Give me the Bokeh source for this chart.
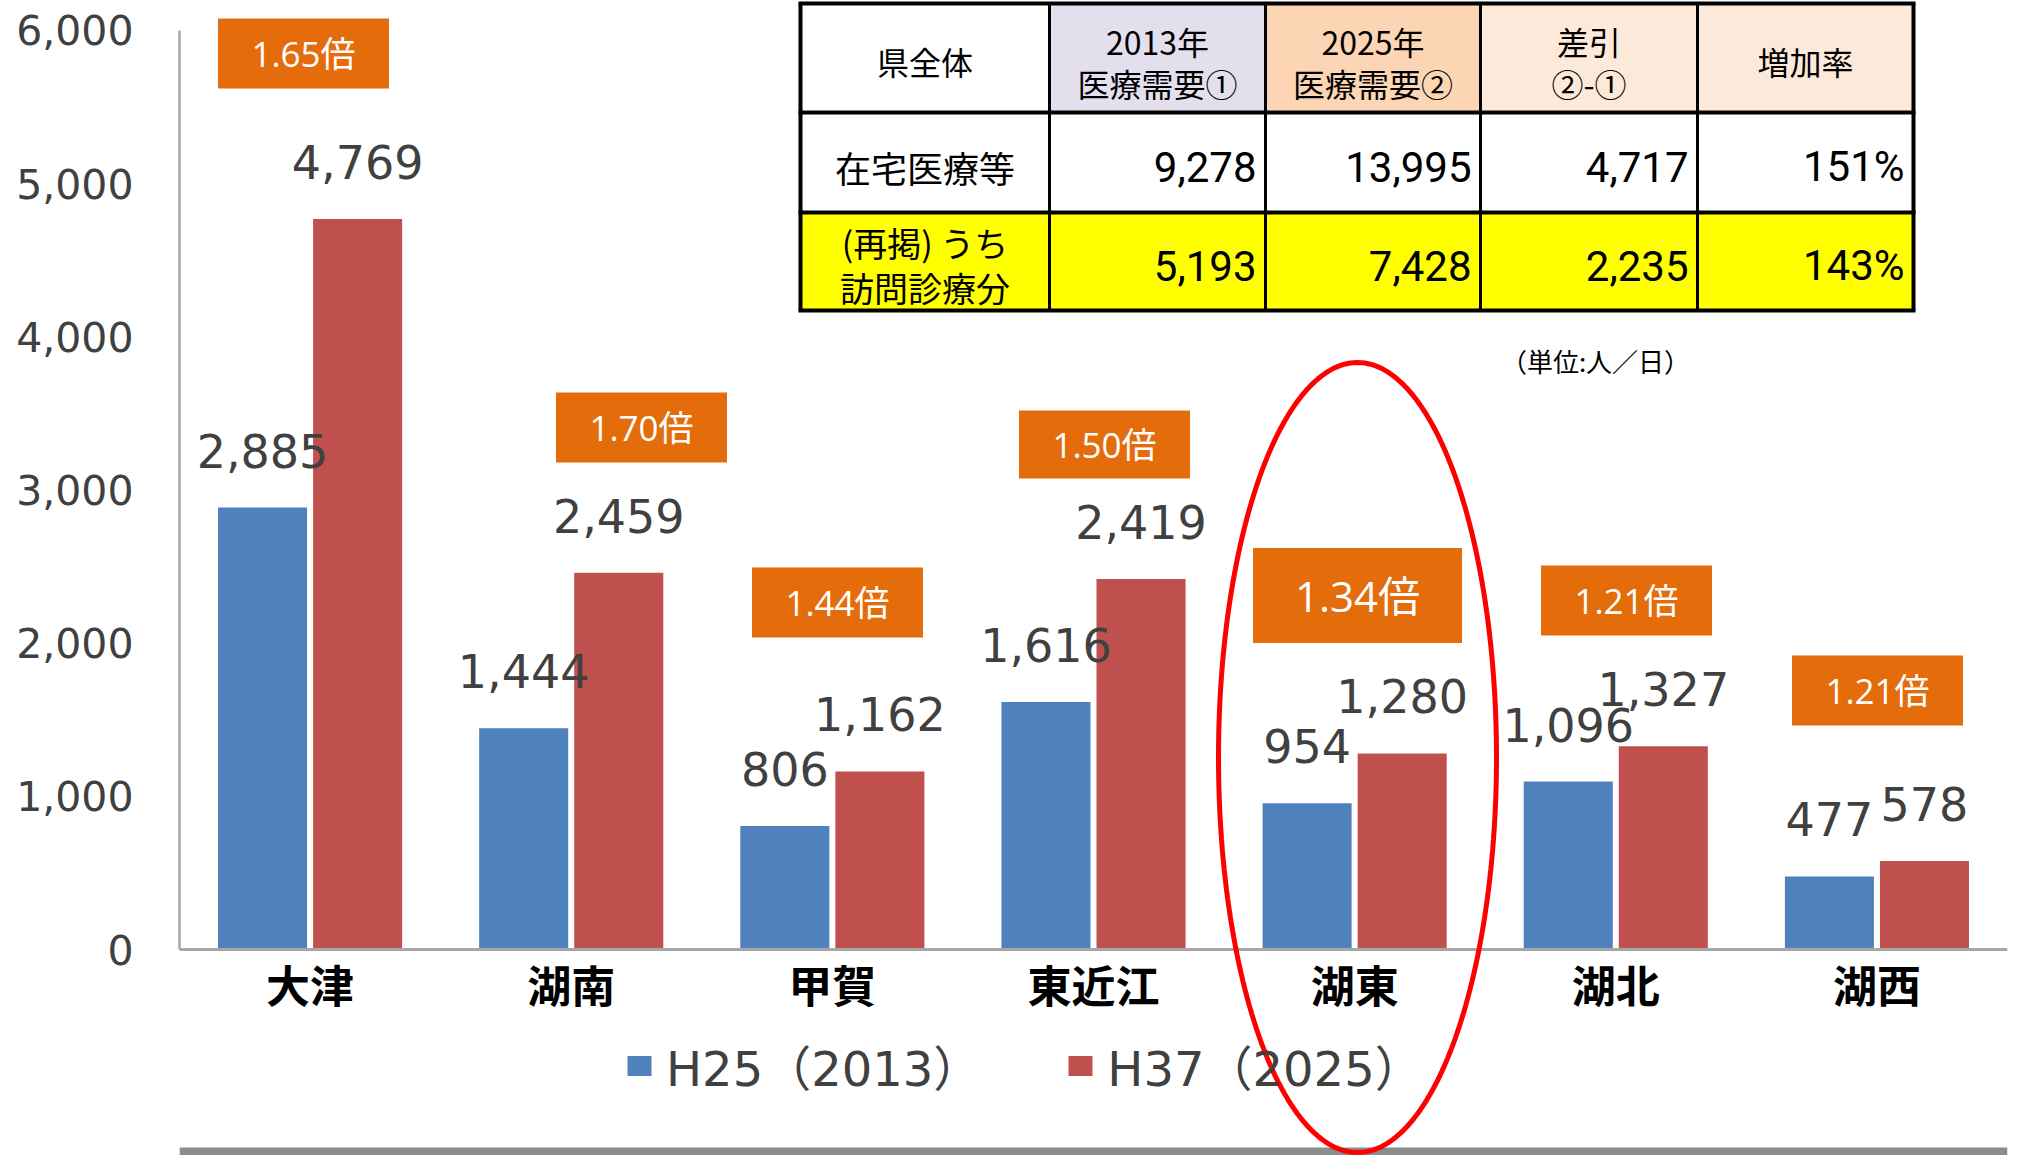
import numpy as np
from bokeh.plotting import figure
from bokeh.models import (Range1d, FixedTicker, NumeralTickFormatter, LinearAxis, Span,
                          Legend, LegendItem, PolyAnnotation, ColumnDataSource)
from bokeh.core.properties import value
from bokeh.embed import file_html
from bokeh.resources import INLINE

# ---------------- data ----------------
regions = ["大津", "湖南", "甲賀", "東近江", "湖東", "湖北", "湖西"]
h25_2013 = [2885, 1444, 806, 1616, 954, 1096, 477]
h37_2025 = [4769, 2459, 1162, 2419, 1280, 1327, 578]
growth_labels = ["1.65倍", "1.70倍", "1.44倍", "1.50倍", "1.34倍", "1.21倍", "1.21倍"]
series_names = ["H25（2013）", "H37（2025）"]
y_ticks = [0, 1000, 2000, 3000, 4000, 5000, 6000]

table_corner = "県全体"
table_headers = [["2013年", "医療需要①"], ["2025年", "医療需要②"], ["差引", "②-①"], ["増加率"]]
table_row_labels = [["在宅医療等"], ["(再掲) うち", "訪問診療分"]]
home_care_values = [9278, 13995, 4717]
home_care_rate = 151
home_visit_values = [5193, 7428, 2235]
home_visit_rate = 143
unit_note = "（単位:人／日）"

# ---------------- layout / styles ----------------
BLUE, RED, ORANGE = "#4F81BD", "#C0504D", "#E46C0A"
GRAY_TXT = "#404040"
W, H = 2022, 1155
FL, FR = 179, 2007          # frame left/right in page pixels
BASE = 949                  # page pixel of y = 0
PX_PER_UNIT = 0.1532
NUM_FONT = value("DejaVu Sans")
CJK = value("Noto Sans CJK JP")
NARROW = value("Liberation Sans Narrow, Roboto, Noto Sans CJK JP")

n = len(regions)
centers_x = [i + 0.5 for i in range(n)]
px_per_cat = (FR - FL) / n

def to_data_x(px):
    return (np.asarray(px, dtype=float) - FL) / px_per_cat

def to_data_y(py):
    return (BASE - np.asarray(py, dtype=float)) / PX_PER_UNIT

p = figure(frame_width=FR - FL, frame_height=H, output_backend="svg", toolbar_location=None,
           x_axis_location=None,
           x_range=Range1d(0, n), y_range=Range1d(float(to_data_y(H)), float(to_data_y(0))))
p.min_border_left = FL
p.min_border_right = W - FR
p.min_border_top = 0
p.min_border_bottom = 0
p.outline_line_color = None
p.grid.visible = False
p.background_fill_color = "white"
p.border_fill_color = "white"

# pixel-space ranges (page coordinates) for table & boxes
p.extra_x_ranges = {"px": Range1d(FL, FR)}
p.extra_y_ranges = {"py": Range1d(H, 0)}

# y axis
p.yaxis.ticker = FixedTicker(ticks=y_ticks)
p.yaxis.formatter = NumeralTickFormatter(format="0,0")
p.yaxis.bounds = (0, 6000)
p.yaxis.major_tick_line_color = None
p.yaxis.minor_tick_line_color = None
p.yaxis.major_label_standoff = 40
p.yaxis.major_label_text_font = "DejaVu Sans"
p.yaxis.major_label_text_font_size = "41px"
p.yaxis.major_label_text_color = GRAY_TXT
p.yaxis.axis_line_color = "#A6A6A6"
p.yaxis.axis_line_width = 2.5

# x axis: category labels, placed at a fixed location below the baseline
LABEL_C, STANDOFF, LABEL_CENTER = 43, -200, 988
xaxis = LinearAxis(fixed_location=float(to_data_y(LABEL_CENTER - LABEL_C - STANDOFF)),
                   ticker=FixedTicker(ticks=centers_x),
                   major_label_overrides={c: r for c, r in zip(centers_x, regions)},
                   axis_line_color=None, major_tick_line_color=None, minor_tick_line_color=None,
                   major_label_standoff=STANDOFF,
                   major_label_text_font="Noto Sans CJK JP", major_label_text_font_style="bold",
                   major_label_text_font_size="44px", major_label_text_color="black")
p.add_layout(xaxis, "below")
p.add_layout(Span(location=0, dimension="width", line_color="#A6A6A6", line_width=3))

# bars
OFF, BW = 0.182, 0.341
src = ColumnDataSource(dict(
    x25=[c - OFF for c in centers_x], x37=[c + OFF for c in centers_x],
    h25=h25_2013, h37=h37_2025,
    t25=[f"{v:,}" for v in h25_2013], t37=[f"{v:,}" for v in h37_2025]))
r25 = p.vbar(x="x25", top="h25", bottom=0, width=BW, source=src, fill_color=BLUE, line_color=None)
r37 = p.vbar(x="x37", top="h37", bottom=0, width=BW, source=src, fill_color=RED, line_color=None)
for k in ("25", "37"):
    p.text(x="x" + k, y="h" + k, text="t" + k, source=src, y_offset=-57,
           text_align="center", text_baseline="middle",
           text_font=NUM_FONT, text_font_size="46px", text_color=GRAY_TXT)

# growth-ratio boxes (page pixel positions)
box_cx = [303, 641, 837, 1104, 1357, 1626, 1877]
box_cy = [53, 427, 602, 444, 595, 600, 690]
box_w = [171, 171, 171, 171, 209, 171, 171]
box_h = [70, 70, 70, 68, 95, 70, 70]
box_fs = ["35px", "35px", "35px", "35px", "42px", "35px", "35px"]
bsrc = ColumnDataSource(dict(x=box_cx, y=box_cy, w=box_w, h=box_h, t=growth_labels, fs=box_fs))
p.rect(x="x", y="y", width="w", height="h", source=bsrc, fill_color=ORANGE,
       line_color=None, x_range_name="px", y_range_name="py")
p.text(x="x", y="y", text="t", source=bsrc, text_font_size="fs",
       text_font=value("Open Sans, Noto Sans CJK JP"), text_color="white",
       text_align="center", text_baseline="middle", x_range_name="px", y_range_name="py")

# ---------------- table ----------------
col_edges = [800, 1049, 1265, 1480, 1697, 1913]
row_edges = [3, 112, 212, 310]
header_fills = ["#FFFFFF", "#E4DFEC", "#FCD5B4", "#FDE9D9", "#FDE9D9"]
row_fills = ["#FFFFFF", "#FFFF00"]
ql, qr, qt, qb, qc = [], [], [], [], []
for r in range(3):
    for c in range(5):
        ql.append(col_edges[c]); qr.append(col_edges[c + 1])
        qt.append(row_edges[r]); qb.append(row_edges[r + 1])
        qc.append(header_fills[c] if r == 0 else row_fills[r - 1])
p.quad(left=ql, right=qr, top=qt, bottom=qb, fill_color=qc, line_color=None,
       x_range_name="px", y_range_name="py")
p.segment(x0=[col_edges[0] - 2] * 4, x1=[col_edges[-1] + 2] * 4, y0=row_edges, y1=row_edges,
          line_color="black", line_width=4, x_range_name="px", y_range_name="py")
p.segment(x0=col_edges, x1=col_edges, y0=[row_edges[0]] * 6, y1=[row_edges[-1]] * 6,
          line_color="black", line_width=[4, 3, 3, 3, 3, 4], x_range_name="px", y_range_name="py")

cell_cx = [(col_edges[i] + col_edges[i + 1]) / 2 for i in range(5)]
tx, ty, tt = [cell_cx[0]], [60], [table_corner]
for i, lines in enumerate(table_headers):
    ys = [60] if len(lines) == 1 else [40, 82]
    for yy, s in zip(ys, lines):
        tx.append(cell_cx[i + 1]); ty.append(yy); tt.append(s)
p.text(x=tx, y=ty, text=tt, text_font=CJK, text_font_size="32px", text_color="black",
       text_align="center", text_baseline="middle", x_range_name="px", y_range_name="py")
lx, ly, lt, lf = [], [], [], []
for lines, ys, fs in zip(table_row_labels, ([166], [242, 287]), ("36px", "34px")):
    for yy, s in zip(ys, lines):
        lx.append(cell_cx[0]); ly.append(yy); lt.append(s); lf.append(fs)
p.text(x=lx, y=ly, text=lt, text_font=CJK, text_font_size=lf, text_color="black",
       text_align="center", text_baseline="middle", x_range_name="px", y_range_name="py")
row2 = [f"{v:,}" for v in home_care_values] + [f"{home_care_rate}%"]
row3 = [f"{v:,}" for v in home_visit_values] + [f"{home_visit_rate}%"]
rx = [e - 9 for e in col_edges[2:]]
p.text(x=rx + rx, y=[166] * 4 + [265] * 4, text=row2 + row3,
       text_font=NARROW, text_font_size="42px", text_color="black",
       text_align="right", text_baseline="middle", x_range_name="px", y_range_name="py")
p.text(x=[1595], y=[360], text=[unit_note], text_font=CJK, text_font_size="26px",
       text_color="black", text_align="center", text_baseline="middle",
       x_range_name="px", y_range_name="py")

# grey band at the bottom of the picture
p.quad(left=[FL], right=[FR], top=[1147], bottom=[H], fill_color="#8C8C8C", line_color=None,
       x_range_name="px", y_range_name="py")

# highlight ellipse around 湖東 (page pixels -> data)
t = np.linspace(0, 2 * np.pi, 241)
ell = PolyAnnotation(xs=list(to_data_x(1357 + 139 * np.cos(t))),
                     ys=list(to_data_y(757 + 395 * np.sin(t))),
                     fill_alpha=0, line_color="#FF0000", line_alpha=1, line_width=5)
p.add_layout(ell)

# legend
legend = Legend(items=[LegendItem(label=series_names[0], renderers=[r25]),
                       LegendItem(label=series_names[1], renderers=[r37])],
                orientation="horizontal", location=(445, 55),
                glyph_width=30, glyph_height=25, label_standoff=12, spacing=84,
                padding=0, margin=0, border_line_color=None, background_fill_alpha=0,
                label_text_font="DejaVu Sans, Noto Sans CJK JP", label_text_font_size="48px",
                label_text_color=GRAY_TXT)
p.add_layout(legend)

open("out.html", "w").write(file_html(p, INLINE))
